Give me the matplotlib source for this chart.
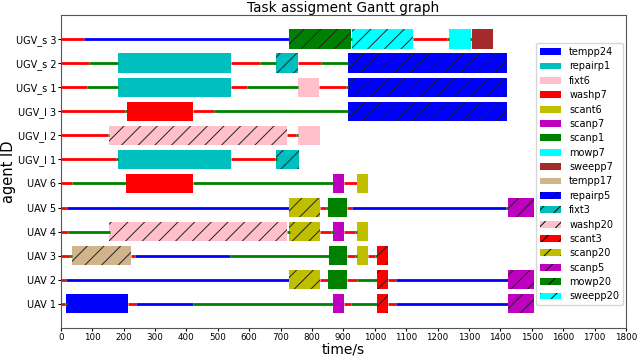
import matplotlib
matplotlib.use("Agg")
import matplotlib.pyplot as plt
from matplotlib.patches import Patch

# agents from bottom to top
agents = ["UAV 1", "UAV 2", "UAV 3", "UAV 4", "UAV 5", "UAV 6",
          "UGV_l 1", "UGV_l 2", "UGV_l 3", "UGV_s 1", "UGV_s 2", "UGV_s 3"]

# (start, end, what) -- what is "travel", "wait", "idle" or a task name
uav1 = [(0, 13, "travel"), (13, 19, "wait"), (18, 215, "tempp24"), (215, 239, "travel"),
        (239, 422, "idle"), (422, 868, "wait"), (868, 902, "scanp7"), (902, 923, "travel"),
        (923, 1006, "wait"), (1006, 1043, "scant3"), (1043, 1067, "travel"),
        (1067, 1423, "idle"), (1423, 1508, "scanp5")]
uav2 = [(0, 18, "travel"), (18, 727, "idle"), (727, 825, "scanp20"), (825, 852, "travel"),
        (852, 913, "scanp1"), (913, 942, "travel"), (942, 1006, "wait"), (1006, 1043, "scant3"),
        (1043, 1067, "travel"), (1067, 1423, "idle"), (1423, 1508, "scanp5")]
uav3 = [(0, 30, "travel"), (30, 37, "wait"), (36, 225, "tempp17"), (225, 236, "travel"),
        (236, 538, "idle"), (538, 854, "wait"), (854, 913, "scanp1"), (913, 936, "travel"),
        (936, 943, "wait"), (942, 977, "scant6"), (977, 1000, "travel"), (1000, 1007, "wait"),
        (1006, 1043, "scant3")]
uav4 = [(0, 23, "travel"), (23, 156, "wait"), (154, 722, "washp20"), (722, 729, "wait"),
        (727, 825, "scanp20"), (825, 862, "travel"), (862, 869, "wait"), (868, 902, "scanp7"),
        (902, 936, "travel"), (936, 943, "wait"), (942, 977, "scant6")]
uav5 = [(0, 20, "travel"), (20, 727, "idle"), (727, 825, "scanp20"), (825, 846, "travel"),
        (846, 853, "wait"), (852, 913, "scanp1"), (913, 926, "travel"), (926, 1417, "idle"),
        (1417, 1424, "wait"), (1423, 1508, "scanp5")]
uav6 = [(0, 36, "travel"), (36, 209, "wait"), (209, 422, "washp7"), (422, 868, "wait"),
        (868, 902, "scanp7"), (902, 942, "travel"), (942, 977, "scant6")]
ugv_l1 = [(0, 175, "travel"), (175, 182, "wait"), (181, 541, "repairp1"), (541, 681, "travel"),
          (681, 688, "wait"), (687, 759, "fixt3")]
ugv_l2 = [(0, 149, "travel"), (149, 155, "wait"), (154, 722, "washp20"), (722, 749, "travel"),
          (749, 757, "wait"), (756, 827, "fixt6")]
ugv_l3 = [(0, 204, "travel"), (204, 211, "wait"), (210, 422, "washp7"), (422, 489, "travel"),
          (489, 916, "wait"), (915, 1422, "repairp5")]
ugv_s1 = [(0, 82, "travel"), (82, 181, "wait"), (181, 541, "repairp1"), (541, 592, "travel"),
          (592, 756, "wait"), (756, 822, "fixt6"), (822, 909, "travel"), (909, 916, "wait"),
          (915, 1422, "repairp5")]
ugv_s2 = [(0, 90, "travel"), (90, 181, "wait"), (181, 541, "repairp1"), (541, 634, "travel"),
          (634, 687, "wait"), (687, 756, "fixt3"), (756, 828, "travel"), (828, 916, "wait"),
          (915, 1422, "repairp5")]
ugv_s3 = [(0, 73, "travel"), (73, 727, "idle"), (726, 924, "mowp20"), (922, 928, "wait"),
          (926, 1122, "sweepp20"), (1122, 1231, "travel"), (1231, 1238, "wait"),
          (1237, 1306, "mowp7"), (1304, 1311, "wait"), (1310, 1377, "sweepp7")]

schedules = [uav1, uav2, uav3, uav4, uav5, uav6,
             ugv_l1, ugv_l2, ugv_l3, ugv_s1, ugv_s2, ugv_s3]

solid_tasks = ["tempp24", "repairp1", "fixt6", "washp7", "scant6",
               "scanp7", "scanp1", "mowp7", "sweepp7", "tempp17"]
hatched_tasks = ["repairp5", "fixt3", "washp20", "scant3", "scanp20",
                 "scanp5", "mowp20", "sweepp20"]
# tempp17 shows up hatched in the chart even though its legend entry is plain
hatched_in_plot = hatched_tasks + ["tempp17"]

task_colors = {
    "tempp24": "blue", "repairp1": "c", "fixt6": "pink", "washp7": "red",
    "scant6": "y", "scanp7": "m", "scanp1": "green", "mowp7": "cyan",
    "sweepp7": "brown", "tempp17": "tan",
    "repairp5": "blue", "fixt3": "c", "washp20": "pink", "scant3": "red",
    "scanp20": "y", "scanp5": "m", "mowp20": "green", "sweepp20": "cyan",
}
line_colors = {"travel": "red", "wait": "green", "idle": "blue"}

plt.rcParams["hatch.linewidth"] = 0.7

fig = plt.figure(figsize=(6.4, 3.56), dpi=100)
ax = fig.add_axes([0.095, 0.079, 0.883, 0.879])

for row, sched in enumerate(schedules, start=1):
    # lines first (travel/idle), then task bars, then the short wait marks
    for start, end, what in sched:
        if what in line_colors and what != "wait":
            ax.plot([start, end], [row, row], color=line_colors[what], lw=2.0,
                    solid_capstyle="butt", zorder=2)
    for start, end, what in sched:
        if what in task_colors:
            hatch = "//" if what in hatched_in_plot else None
            ax.barh(row, end - start, left=start, height=0.8, color=task_colors[what],
                    hatch=hatch, edgecolor="#222222" if hatch else task_colors[what],
                    linewidth=0, zorder=3)
    for start, end, what in sched:
        if what == "wait":
            ax.plot([start, end], [row, row], color="green", lw=2.0,
                    solid_capstyle="butt", zorder=4)

ax.set_xlim(0, 1800)
ax.set_ylim(0, 13)
ax.set_xticks(range(0, 1801, 100))
ax.set_yticks(range(1, len(agents) + 1))
ax.set_yticklabels(agents)
ax.tick_params(axis="x", labelsize=6.3, length=2.5, pad=1.5)
ax.tick_params(axis="y", labelsize=7, length=2.5, pad=0.8)
for s in ax.spines.values():
    s.set_color("#555555")
ax.set_xlabel("time/s", fontsize=10, labelpad=0)
ax.set_ylabel("agent ID", fontsize=10.5, labelpad=0)
ax.set_title("Task assigment Gantt graph", fontsize=9.8, pad=2)

handles = [Patch(facecolor=task_colors[t], label=t) for t in solid_tasks]
handles += [Patch(facecolor=task_colors[t], hatch="//", edgecolor="k", linewidth=0, label=t)
            for t in hatched_tasks]
ax.legend(handles=handles, loc="upper right", bbox_to_anchor=(0.995, 0.91),
          borderaxespad=0, fontsize=7, labelspacing=0.45, handlelength=2.2,
          handletextpad=0.8)

fig.savefig("out.png", dpi=100)
